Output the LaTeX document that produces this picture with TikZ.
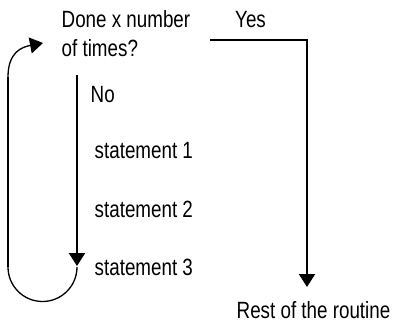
\documentclass[tikz,border=0pt]{standalone}
\usepackage{fontspec}
\setmainfont{Liberation Sans}[FakeStretch=0.8]
\usetikzlibrary{arrows.meta}
\begin{document}
\begin{tikzpicture}[x=1pt,y=1pt,
  lbl/.style={anchor=base west, inner sep=0pt, align=left, font=\fontsize{23.5}{29.5}\selectfont},
  thick line/.style={line width=2pt},
  thin line/.style={line width=1.3pt},
  tip/.style={-{Triangle[width=16pt,length=13pt]}}]
\useasboundingbox (0,0) rectangle (399,-326);
\node[lbl] (q) at (61.5,-57) {Done x number\\of times?};
\node[lbl] (yes) at (235,-28) {Yes};
\node[lbl] (no) at (90.5,-103) {No};
\node[lbl] (s1) at (94.5,-158) {statement 1};
\node[lbl] (s2) at (94.5,-217) {statement 2};
\node[lbl] (s3) at (94.5,-275) {statement 3};
\node[lbl] (rest) at (236.5,-318) {Rest of the routine};
% Yes branch
\coordinate (ystart) at (210,-40);
\coordinate (yend) at (307,-287);
\draw[thick line, tip] (ystart) -| (yend);
% No branch
\coordinate (nstart) at (77,-75);
\coordinate (nend) at (77,-266);
\draw[thick line, tip] (nstart) -- (nend);
% loop back
\coordinate (lbot) at (8,-267);
\coordinate (ltop) at (8,-77);
\coordinate (lend) at (43,-43);
\draw[thin line] (77,-267) arc[start angle=0, end angle=-180, radius=34.5];
\draw[thick line] (lbot) -- (ltop);
\draw[thin line, tip] (ltop) .. controls (8,-52) and (22,-47) .. (lend);
\end{tikzpicture}
\end{document}
